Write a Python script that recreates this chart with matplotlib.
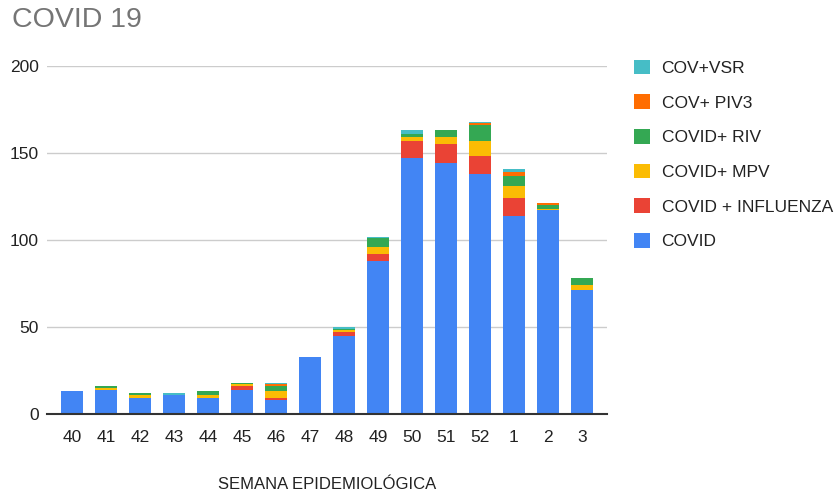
import matplotlib
matplotlib.use("Agg")
import matplotlib.pyplot as plt
from matplotlib.patches import Patch
import numpy as np

plt.rcParams['font.family'] = ['Liberation Sans', 'DejaVu Sans']

weeks = ["40", "41", "42", "43", "44", "45", "46", "47", "48", "49",
         "50", "51", "52", "1", "2", "3"]

covid      = [13, 14, 9, 11, 9, 14, 8, 33, 45, 88, 147, 144, 138, 114, 117, 71]
influenza  = [0, 0, 0, 0, 0, 2, 1, 0, 2, 4, 10, 11, 10, 10, 0, 0]
mpv        = [0, 1, 2, 0, 2, 1, 4, 0, 1, 4, 2, 4, 9, 7, 1, 3]
riv        = [0, 1, 1, 0, 2, 1, 3, 0, 1, 5, 2, 4, 9, 6, 2, 4]
piv3       = [0, 0, 0, 0, 0, 0, 1, 0, 0, 0, 0, 0, 1, 2, 1, 0]
vsr        = [0, 0, 0, 1, 0, 0, 1, 0, 1, 1, 2, 0, 1, 2, 0, 0]

series = [
    ("COVID", covid, "#4285f4"),
    ("COVID + INFLUENZA", influenza, "#ea4335"),
    ("COVID+ MPV", mpv, "#fbbc04"),
    ("COVID+ RIV", riv, "#34a853"),
    ("COV+ PIV3", piv3, "#ff6d01"),
    ("COV+VSR", vsr, "#46bdc6"),
]

fig = plt.figure(figsize=(8.37, 4.93), dpi=100)
ax = fig.add_axes([47/837, 79/493, 560/837, 348/493])

x = np.arange(len(weeks))
bottom = np.zeros(len(weeks))
for name, vals, color in series:
    vals = np.array(vals, dtype=float)
    ax.bar(x, vals, width=0.65, bottom=bottom, color=color, label=name,
           zorder=3, linewidth=0)
    bottom += vals

ax.set_xlim(-0.74, len(weeks) - 1 + 0.74)
ax.set_ylim(0, 200)
ax.set_yticks([0, 50, 100, 150, 200])
ax.set_xticks(x)
ax.set_xticklabels(weeks)
ax.grid(axis='y', color='#cccccc', linewidth=1, zorder=0)
for s in ['top', 'right', 'left']:
    ax.spines[s].set_visible(False)
ax.spines['bottom'].set_color('#333333')
ax.spines['bottom'].set_linewidth(1.5)
ax.spines['bottom'].set_zorder(4)
ax.tick_params(axis='both', length=0, labelsize=12.5, colors='#222222')
ax.tick_params(axis='x', pad=11.5)
ax.tick_params(axis='y', pad=6)

ax.set_xlabel("SEMANA EPIDEMIOLÓGICA", fontsize=12, color='#222222', labelpad=23)

fig.text(12/837, 1 - 20/493, "COVID 19", fontsize=20.5, color='#757575',
         ha='left', va='center')

handles = [Patch(facecolor=c, edgecolor='none', label=n) for n, _, c in series][::-1]
fig.legend(handles=handles, loc='upper left', bbox_to_anchor=(618/837, 1 - 44/493),
           frameon=False, fontsize=12.5, handlelength=0.92, handleheight=0.92,
           labelspacing=1.06, handletextpad=0.69, labelcolor='#222222')

fig.savefig("out.png", dpi=100)
